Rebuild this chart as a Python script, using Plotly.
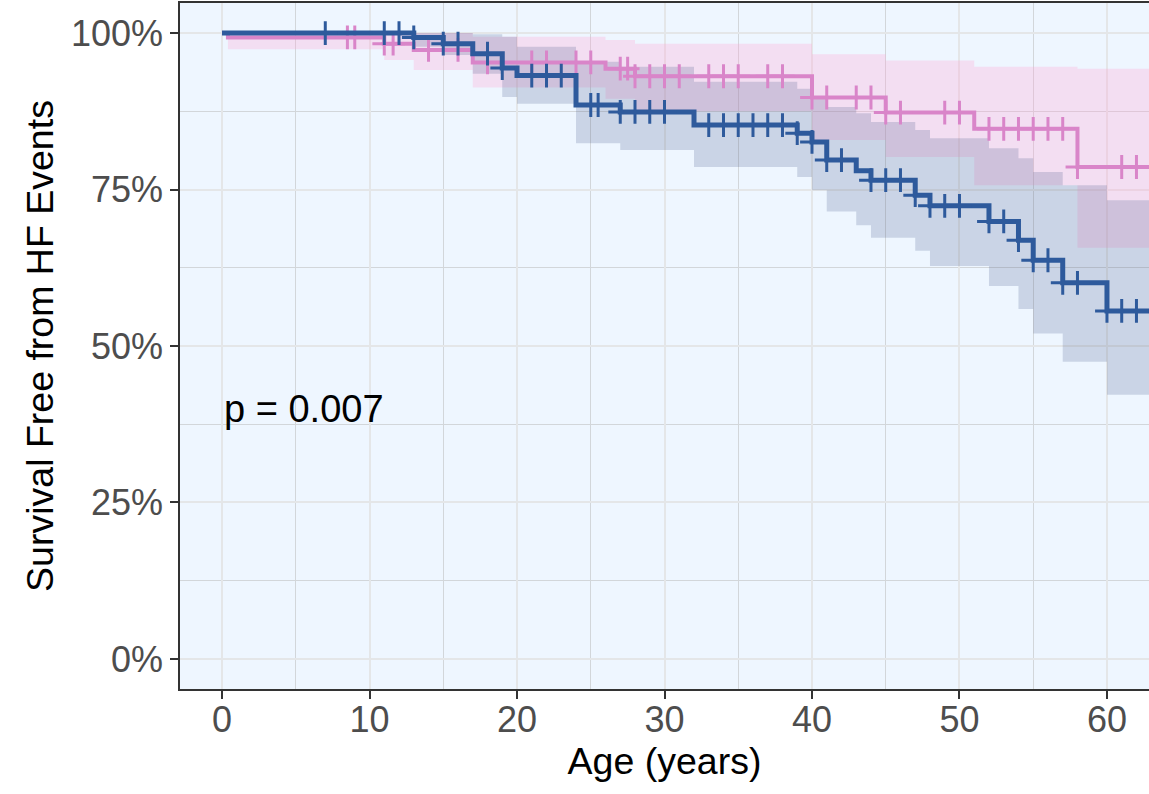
import numpy as np
import plotly.graph_objects as go

# ---- data ----
blue_time  = [0, 13, 15, 17, 19, 20, 24, 27, 32, 39, 40, 41, 43, 44, 47, 48, 52, 54, 55, 57, 60, 63]
blue_surv  = [100, 99.3, 98.3, 96.7, 94.4, 93.2, 88.5, 87.4, 85.3, 84.0, 82.6, 79.7, 78.0, 76.5, 74.1, 72.4, 69.9, 66.9, 63.7, 60.1, 55.6, 55.6]
blue_lower = [100, 97.8, 96.5, 93.5, 89.8, 88.7, 82.4, 81.3, 78.6, 77.0, 74.9, 71.5, 69.3, 67.3, 65.2, 62.8, 59.6, 55.9, 52.0, 47.5, 42.2, 42.2]
blue_upper = [100, 100, 100, 99.8, 99.4, 97.8, 95.4, 94.6, 92.2, 91.1, 89.5, 88.2, 87.2, 85.8, 84.5, 83.2, 81.6, 80.0, 77.8, 75.7, 73.3, 73.3]
blue_censor = [7, 11, 12, 13, 15, 16, 18, 19, 21, 22, 23, 25, 25.5, 27, 28, 29, 30,
               33, 34, 35, 36, 37, 38, 39, 40, 41, 42, 44, 45, 46, 47, 48, 49, 50,
               52, 53, 54, 55, 56, 57, 58, 60, 61, 62]

pink_time  = [0, 0.4, 11, 13, 17, 26, 28, 40, 45, 51, 58, 63]
pink_surv  = [100, 99.3, 98.3, 97.3, 95.3, 94.3, 93.1, 89.7, 87.3, 84.7, 78.6, 78.6]
pink_lower = [100, 97.4, 95.7, 94.1, 91.3, 89.5, 87.5, 82.9, 80.2, 75.7, 65.7, 65.7]
pink_upper = [100, 100, 100, 100, 99.4, 98.9, 98.3, 96.6, 95.6, 94.6, 94.3, 94.3]
pink_censor = [8.5, 9, 11, 11.6, 14, 16, 18, 21, 22, 24, 25, 27, 27.5, 28, 29, 30, 31,
               33, 34, 35, 37, 38, 40, 41, 43, 44, 45, 46, 49, 50, 52, 53, 54, 55,
               56, 57, 58, 61, 62]

x_ticks = [0, 10, 20, 30, 40, 50, 60]
y_ticks = [0, 0.25, 0.5, 0.75, 1.0]
y_ticklabels = ["0%", "25%", "50%", "75%", "100%"]
p_label = "p = 0.007"

BLUE = "#2E5A9C"
PINK = "#D985C9"
FONT = "Liberation Sans, Arial, sans-serif"


def step_value(times, values, t):
    i = np.searchsorted(np.asarray(times), t, side="right") - 1
    return np.asarray(values)[i]


fig = go.Figure()

groups = [
    (pink_time, pink_surv, pink_lower, pink_upper, pink_censor, PINK,
     "rgba(255,165,212,0.30)", 4.0),
    (blue_time, blue_surv, blue_lower, blue_upper, blue_censor, BLUE,
     "rgba(60,80,130,0.20)", 5.0),
]

# bands first
for t, s, lo, up, cen, col, fillcol, lw in groups:
    fig.add_trace(go.Scatter(x=t, y=np.array(lo) / 100, mode="lines",
                             line=dict(width=0, shape="hv", color=fillcol),
                             showlegend=False, hoverinfo="skip"))
    fig.add_trace(go.Scatter(x=t, y=np.array(up) / 100, mode="lines",
                             line=dict(width=0, shape="hv", color=fillcol),
                             fill="tonexty", fillcolor=fillcol,
                             showlegend=False, hoverinfo="skip"))

for t, s, lo, up, cen, col, fillcol, lw in groups:
    fig.add_trace(go.Scatter(x=t, y=np.array(s) / 100, mode="lines",
                             line=dict(width=lw, shape="hv", color=col),
                             showlegend=False))
    cy = [step_value(t, s, c) / 100 for c in cen]
    fig.add_trace(go.Scatter(x=cen, y=cy, mode="markers",
                             marker=dict(symbol="cross-thin", size=17,
                                         line=dict(width=3, color=col)),
                             showlegend=False))

fig.add_annotation(x=0, y=0.4, text=p_label, showarrow=False,
                   xanchor="left", yanchor="middle",
                   font=dict(size=38, color="black", family=FONT))

fig.update_layout(
    width=1149, height=794,
    margin=dict(l=180, r=0, t=3, b=105),
    paper_bgcolor="white",
    plot_bgcolor="#EEF6FF",
    font=dict(family=FONT),
    showlegend=False,
)

fig.update_xaxes(
    range=[-2.85, 62.85], tickvals=x_ticks, automargin=False,
    ticks="outside", ticklen=8, tickwidth=2, tickcolor="#333333",
    tickfont=dict(size=36, color="#4D4D4D", family=FONT),
    ticklabelstandoff=-10,
    showline=True, linecolor="#333333", linewidth=1.5, mirror=True,
    showgrid=True, gridcolor="#E4E6E8", gridwidth=2,
    minor=dict(dtick=5, showgrid=True, gridcolor="#D2D6DA", gridwidth=1),
    zeroline=False,
    title=dict(text="Age (years)", font=dict(size=37.5, color="black", family=FONT),
               standoff=4),
)
fig.update_yaxes(
    range=[-0.048, 1.048], tickvals=y_ticks, ticktext=y_ticklabels, automargin=False,
    ticks="outside", ticklen=8, tickwidth=2, tickcolor="#333333",
    tickfont=dict(size=36, color="#4D4D4D", family=FONT),
    showline=True, linecolor="#333333", linewidth=1.5, mirror=False,
    showgrid=True, gridcolor="#E4E6E8", gridwidth=2,
    minor=dict(dtick=0.125, showgrid=True, gridcolor="#D2D6DA", gridwidth=1),
    zeroline=False,
    title=dict(text="Survival Free from HF Events",
               font=dict(size=37.5, color="black", family=FONT), standoff=6),
)

fig.write_html("out.html",
               config={"displayModeBar": False},
               post_script="document.body.style.margin='0px';"
                           "document.body.style.overflow='hidden';")
